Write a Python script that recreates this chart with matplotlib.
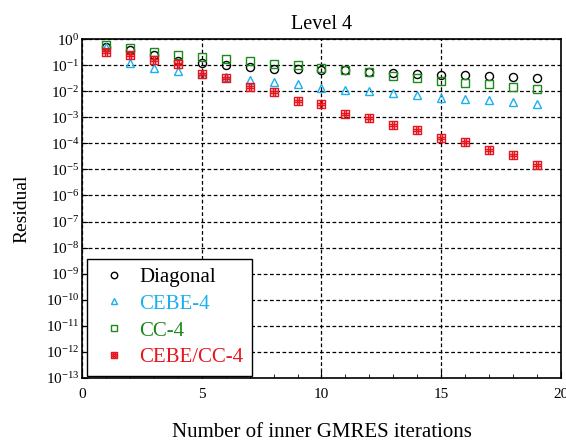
import numpy as np
import matplotlib
matplotlib.use("Agg")
import matplotlib.pyplot as plt
from matplotlib.path import Path
from matplotlib.ticker import LogLocator, LogFormatterMathtext, MultipleLocator, NullLocator

plt.rcParams['font.family'] = ['Liberation Serif', 'DejaVu Serif']
plt.rcParams['mathtext.fontset'] = 'stix'

iters = np.arange(1, 20)

# log10 of the residual after each inner iteration
diagonal_log = [-0.29, -0.43, -0.60, -0.85, -0.92, -0.99, -1.06, -1.14, -1.16, -1.17,
                -1.20, -1.27, -1.29, -1.32, -1.37, -1.38, -1.43, -1.46, -1.48]
cebe4_log = [-0.32, -0.90, -1.09, -1.24, -1.35, -1.45, -1.57, -1.66, -1.72, -1.86,
             -1.95, -1.99, -2.05, -2.14, -2.24, -2.28, -2.33, -2.41, -2.50]
cc4_log = [-0.23, -0.35, -0.49, -0.61, -0.67, -0.77, -0.85, -0.95, -1.00, -1.12,
           -1.20, -1.27, -1.42, -1.48, -1.61, -1.67, -1.72, -1.82, -1.90]
cebe_cc4_log = [-0.49, -0.62, -0.80, -0.97, -1.33, -1.48, -1.82, -2.01, -2.36, -2.48,
                -2.86, -3.02, -3.31, -3.48, -3.81, -3.95, -4.27, -4.45, -4.83]

series = [
    ("Diagonal", diagonal_log, 'o', 'black'),
    ("CEBE-4", cebe4_log, '^', '#1ab0ee'),
    ("CC-4", cc4_log, 's', '#1a8a1a'),
    ("CEBE/CC-4", cebe_cc4_log, 'grid', '#e8141e'),
]

# square with a # pattern inside
a = 1.0 / 3
verts = [(-1, -1), (1, -1), (1, 1), (-1, 1), (-1, -1),
         (-a, -1), (-a, 1), (a, -1), (a, 1),
         (-1, -a), (1, -a), (-1, a), (1, a)]
codes = [Path.MOVETO, Path.LINETO, Path.LINETO, Path.LINETO, Path.CLOSEPOLY,
         Path.MOVETO, Path.LINETO, Path.MOVETO, Path.LINETO,
         Path.MOVETO, Path.LINETO, Path.MOVETO, Path.LINETO]
grid_marker = Path(verts, codes)

fig = plt.figure(figsize=(5.66, 4.45), dpi=100)
ax = fig.add_axes([0.145, 0.151, 0.846, 0.761])

for name, vals, mk, col in series:
    m = grid_marker if mk == 'grid' else mk
    ms = 6 if mk == 'grid' else 5.8
    ax.plot(iters, 10.0 ** np.array(vals), linestyle='none', marker=m,
            markersize=ms, markerfacecolor='none', markeredgecolor=col,
            markeredgewidth=1.0, label=name)

ax.set_yscale('log')
ax.set_xlim(0, 20)
ax.set_ylim(1e-13, 1)
ax.yaxis.set_major_locator(LogLocator(base=10, numticks=20))
ax.yaxis.set_major_formatter(LogFormatterMathtext())
ax.yaxis.set_minor_locator(NullLocator())
ax.xaxis.set_major_locator(MultipleLocator(5))
ax.xaxis.set_minor_locator(MultipleLocator(1))

ax.tick_params(axis='both', which='both', direction='in', labelsize=11)
ax.tick_params(axis='x', which='major', length=5, pad=7)
ax.tick_params(axis='x', which='minor', length=3)
ax.tick_params(axis='y', which='major', length=4, pad=2)

ax.grid(True, which='major', axis='both', color='black',
        linestyle=(0, (3, 2)), linewidth=0.9)
for sp in ax.spines.values():
    sp.set_linewidth(1.2)

ax.set_title("Level 4", fontsize=14.5, pad=7)
ax.set_xlabel("Number of inner GMRES iterations", fontsize=15, labelpad=16)
ax.set_ylabel("Residual", fontsize=14, labelpad=11)

leg = ax.legend(loc='lower left', bbox_to_anchor=(5 / 479, 2 / 339),
                borderaxespad=0, fontsize=15,
                fancybox=False, edgecolor='black', framealpha=1,
                markerscale=0.8, handletextpad=0.3, borderpad=0.4,
                labelspacing=0.35, handlelength=1.8)
leg.get_frame().set_linewidth(1.0)
for txt, (_, _, _, col) in zip(leg.get_texts(), series):
    txt.set_color(col)

fig.savefig("out.png", dpi=100)
